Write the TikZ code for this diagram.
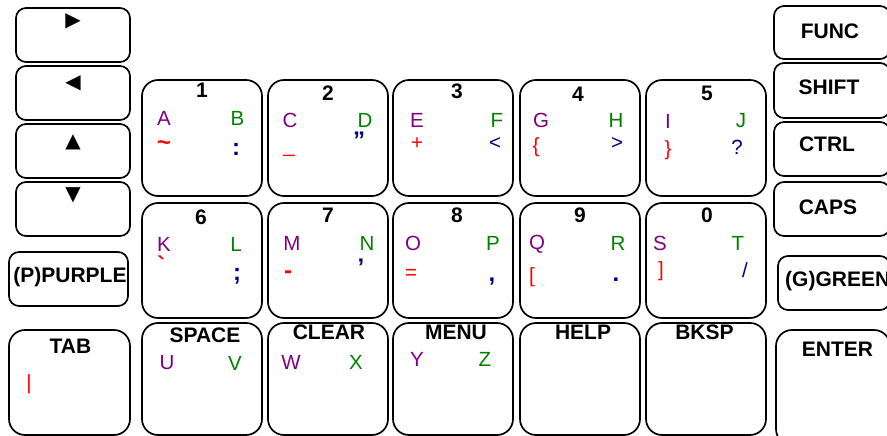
\documentclass[tikz,border=0pt]{standalone}
\usepackage{fontspec}
\setmainfont{Liberation Sans}
\newfontfamily\rawfont{Liberation Sans}[Ligatures=TeXOff]
\newfontfamily\symfont{DejaVu Sans}
\definecolor{kpurple}{HTML}{800080}
\definecolor{kgreen}{HTML}{008000}
\definecolor{kblue}{HTML}{000080}
\definecolor{kred}{HTML}{FF0000}
\newcommand\keyat[6]{\node[keybox, rounded corners=#6, minimum width={(#4-#2)*1pt}, minimum height={(#5-#3)*1pt}] (#1) at ({(#2+#4)/2},{(#3+#5)/2}) {};}
\begin{document}
\begin{tikzpicture}[x=1pt,y=-1pt,
  keybox/.style={draw, line width=1.7pt, inner sep=0pt, rectangle},
  lbl/.style={font=\fontsize{21}{24}\selectfont\bfseries, inner sep=0pt},
  ltr/.style={font=\fontsize{20.5}{24}\selectfont, inner sep=0pt},
  bsym/.style={font=\fontsize{24}{28}\selectfont\bfseries, inner sep=0pt},
  tri/.style={font=\fontsize{20}{24}\symfont, inner sep=0pt},
  pu/.style={ltr, text=kpurple}, gr/.style={ltr, text=kgreen},
  rd/.style={ltr, text=kred}, nv/.style={ltr, text=kblue},
  rdb/.style={bsym, text=kred}, nvb/.style={bsym, text=kblue}]
\useasboundingbox (0,0) rectangle (887,436);
\clip (0,0) rectangle (887,436);
% left column
\keyat{kr}{16}{8}{130}{62}{10pt}
\keyat{kl}{16}{66}{130}{120}{10pt}
\keyat{ku}{16}{124}{130}{178}{10pt}
\keyat{kd}{16}{182}{130}{236}{10pt}
\keyat{kp}{9}{252}{128}{306}{10pt}
\keyat{ktab}{9}{330}{130}{435}{16pt}
% grid
\keyat{k1}{142}{80}{262}{196}{16pt}
\keyat{k2}{268}{80}{388}{196}{16pt}
\keyat{k3}{393}{80}{513}{196}{16pt}
\keyat{k4}{520}{80}{640}{196}{16pt}
\keyat{k5}{646}{80}{766}{196}{16pt}
\keyat{k6}{142}{203}{262}{318}{16pt}
\keyat{k7}{268}{203}{388}{318}{16pt}
\keyat{k8}{393}{203}{513}{318}{16pt}
\keyat{k9}{520}{203}{640}{318}{16pt}
\keyat{k0}{646}{203}{766}{318}{16pt}
\keyat{ksp}{142}{323}{262}{435}{16pt}
\keyat{kcl}{268}{323}{388}{435}{16pt}
\keyat{kmn}{393}{323}{513}{435}{16pt}
\keyat{khp}{520}{323}{640}{435}{16pt}
\keyat{kbk}{646}{323}{766}{435}{16pt}
% right column
\keyat{kfn}{774}{6}{890}{59}{10pt}
\keyat{ksh}{774}{63}{890}{118}{10pt}
\keyat{kct}{774}{122}{890}{176}{10pt}
\keyat{kcp}{774}{182}{890}{236}{10pt}
\keyat{kg}{778}{256}{890}{310}{10pt}
\keyat{ken}{776}{330}{890}{445}{16pt}
% triangles
\node[tri] (tr) at (73,21.5) {▶};
\node[tri] (tl) at (73,83.5) {◀};
\node[tri] (tu) at (73,142.5) {▲};
\node[tri] (td) at (73,195.5) {▼};
% labels
\node[lbl] (lp) at (70,277) {(P)PURPLE};
\node[lbl] (ltab) at (70.5,346) {TAB};
\node[lbl] (lsp) at (205,335) {SPACE};
\node[lbl] (lcl) at (329,332.5) {CLEAR};
\node[lbl] (lmn) at (456,332.5) {MENU};
\node[lbl] (lhp) at (583,332.5) {HELP};
\node[lbl] (lbk) at (704.5,332) {BKSP};
\node[lbl] (lfn) at (830,31) {FUNC};
\node[lbl] (lsh) at (829,87) {SHIFT};
\node[lbl] (lct) at (827,144) {CTRL};
\node[lbl] (lcp) at (828,207) {CAPS};
\node[lbl, anchor=west] (lg) at (785,281.5) {(G)GREEN};
\node[lbl] (len) at (837.5,349.5) {ENTER};
% numbers
\node[lbl] (n1) at (202,90.5) {1};
\node[lbl] (n2) at (328,93) {2};
\node[lbl] (n3) at (457,91.5) {3};
\node[lbl] (n4) at (578,94.5) {4};
\node[lbl] (n5) at (707,93.5) {5};
\node[lbl] (n6) at (201,217) {6};
\node[lbl] (n7) at (328,215) {7};
\node[lbl] (n8) at (457,215) {8};
\node[lbl] (n9) at (580,215) {9};
\node[lbl] (n0) at (707,215) {0};
% letters row 1
\node[pu] (la) at (164,118) {A};
\node[gr] (lb) at (237.5,118) {B};
\node[pu] (lc) at (290,120) {C};
\node[gr] (ld) at (365,120) {D};
\node[pu] (le) at (417,120) {E};
\node[gr] (lf) at (497,120) {F};
\node[pu] (lgg) at (541,120) {G};
\node[gr] (lh) at (616,120) {H};
\node[pu] (li) at (668,121) {I};
\node[gr] (lj) at (741,121) {J};
% letters row 2
\node[pu] (lk) at (164,244) {K};
\node[gr] (ll) at (236,244) {L};
\node[pu] (lm) at (292,243.5) {M};
\node[gr] (ln) at (367,243.5) {N};
\node[pu] (lo) at (413,243.5) {O};
\node[gr] (lpp) at (493,243.5) {P};
\node[pu] (lq) at (537,244) {Q};
\node[gr] (lr) at (618,243.5) {R};
\node[pu] (ls) at (660,243.5) {S};
\node[gr] (lt) at (738,243.5) {T};
% letters row 3
\node[pu] (lu) at (167,363) {U};
\node[gr] (lv) at (235,363) {V};
\node[pu] (lw) at (291,362.5) {W};
\node[gr] (lx) at (356,362.5) {X};
\node[pu] (ly) at (417,359.5) {Y};
\node[gr] (lz) at (485,359.5) {Z};
% symbols row 1
\node[rdb] (s1a) at (164,146) {\char"7E};
\node[nvb] (s1b) at (236,149) {:};
\node[rd] (s2a) at (289,155) {\_};
\node[nvb] (s2b) at (359,140) {”};
\node[rd] (s3a) at (417,144) {+};
\node[nv] (s3b) at (495,144) {<};
\node[rd] (s4a) at (536,147) {\{};
\node[nv] (s4b) at (617,144) {>};
\node[rd] (s5a) at (668,150) {\}};
\node[nv] (s5b) at (737,147) {?};
% symbols row 2
\node[rdb] (s6a) at (161,265) {\rawfont\bfseries\char"60};
\node[nvb] (s6b) at (237,276) {;};
\node[rdb] (s7a) at (288,275) {\char"2D};
\node[nvb] (s7b) at (361,267) {’};
\node[rd] (s8a) at (411,274) {=};
\node[nvb] (s8b) at (492,282) {,};
\node[rd] (s9a) at (532,277) {[};
\node[nvb] (s9b) at (616,280) {.};
\node[rd] (s0a) at (661,271) {]};
\node[nv] (s0b) at (745,270) {/};
\node[rd] (stab) at (29,384) {|};
\end{tikzpicture}
\end{document}
